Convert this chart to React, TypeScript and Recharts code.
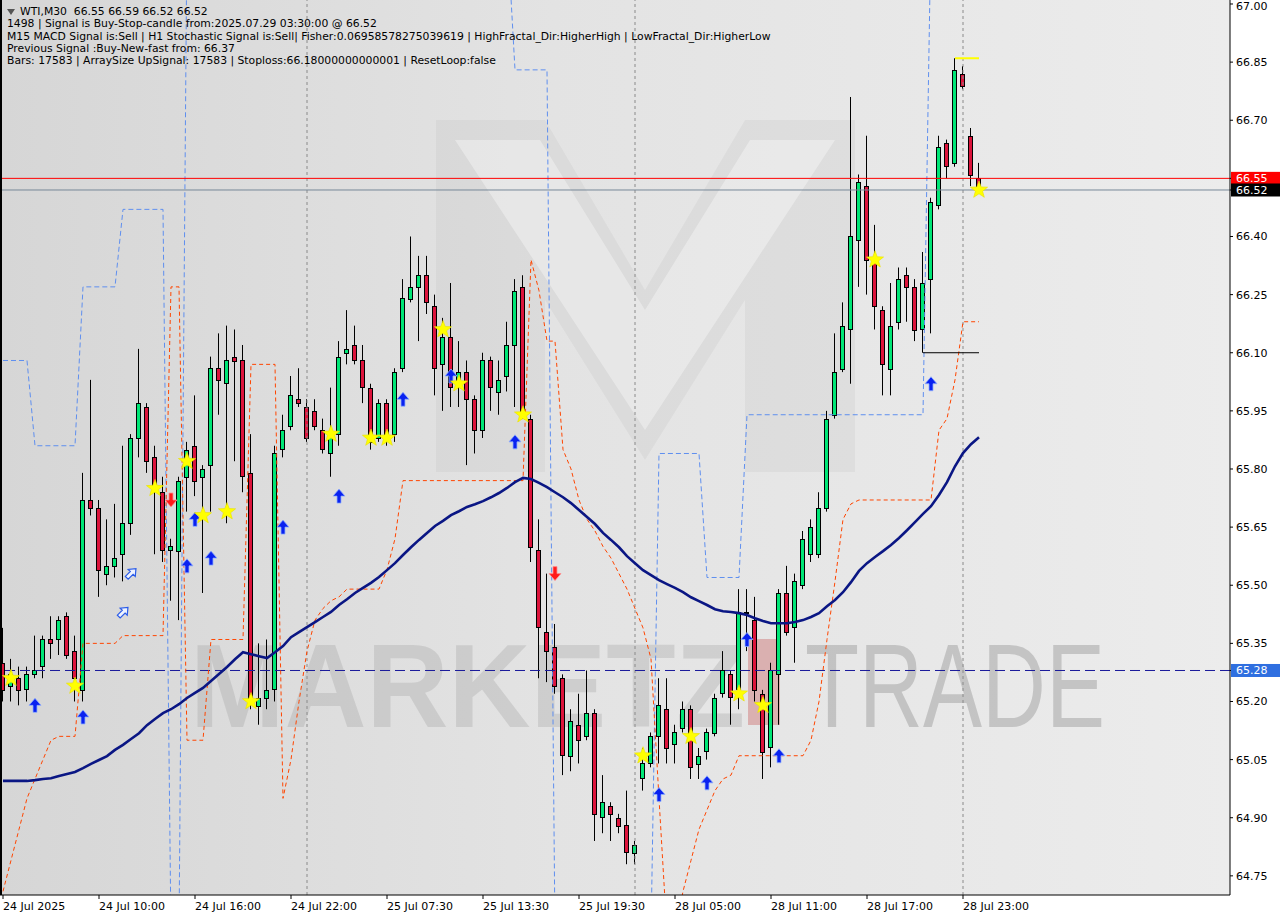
import { Bar, ComposedChart, Line, ReferenceLine, Scatter, XAxis, YAxis } from "recharts"

// WTI M30 – candles (bar 0 = 24 Jul 2025)
const opens = [
  65.30, 65.24, 65.26, 65.23, 65.27, 65.29, 65.36, 65.36, 65.42, 65.33,
  65.23, 65.72, 65.70, 65.53, 65.55, 65.58, 65.66, 65.88, 65.96, 65.83,
  65.74, 65.59, 65.59, 65.78, 65.86, 65.78, 65.81, 66.06, 66.02, 66.09,
  66.08, 65.79, 65.19, 65.21, 65.23, 65.85, 65.91, 65.98, 65.96, 65.95,
  65.90, 65.84, 65.89, 66.10, 66.12, 66.08, 66.01, 65.88, 65.97, 65.89,
  66.06, 66.24, 66.27, 66.30, 66.22, 66.07, 66.14, 66.03, 66.05, 65.98,
  65.90, 66.08, 66.00, 66.04, 66.12, 66.27, 65.93, 65.59, 65.38, 65.34,
  65.26, 65.06, 65.14, 65.11, 65.17, 64.90, 64.93, 64.90, 64.88, 64.81,
  65.00, 65.04, 65.11, 65.18, 65.09, 65.13, 65.18, 65.04, 65.07, 65.12,
  65.22, 65.27, 65.23, 65.43, 65.41, 65.22, 65.08, 65.27, 65.48, 65.39,
  65.50, 65.58, 65.58, 65.70, 65.94, 66.06, 66.16, 66.39, 66.53, 66.34,
  66.21, 66.06, 66.18, 66.30, 66.27, 66.16, 66.29, 66.48, 66.64, 66.59,
  66.82, 66.66, 66.55,
]
const highs = [
  65.39, 65.31, 65.29, 65.29, 65.37, 65.37, 65.42, 65.42, 65.43, 65.37,
  65.79, 66.03, 65.72, 65.67, 65.71, 65.86, 65.89, 66.11, 65.97, 65.86,
  65.78, 65.62, 65.78, 65.87, 65.99, 65.81, 66.09, 66.15, 66.17, 66.16,
  66.12, 65.89, 65.35, 65.36, 65.86, 65.94, 66.04, 66.06, 65.98, 65.98,
  65.93, 66.01, 66.13, 66.21, 66.17, 66.12, 66.02, 65.98, 65.98, 66.06,
  66.29, 66.40, 66.35, 66.35, 66.25, 66.19, 66.28, 66.13, 66.08, 65.99,
  66.10, 66.09, 66.08, 66.18, 66.29, 66.30, 65.94, 65.67, 65.53, 65.40,
  65.27, 65.18, 65.22, 65.28, 65.18, 65.01, 64.94, 64.91, 64.97, 64.84,
  65.08, 65.12, 65.26, 65.26, 65.14, 65.20, 65.19, 65.08, 65.13, 65.22,
  65.33, 65.28, 65.49, 65.49, 65.47, 65.23, 65.30, 65.49, 65.55, 65.53,
  65.64, 65.67, 65.74, 65.95, 66.15, 66.23, 66.76, 66.56, 66.66, 66.43,
  66.22, 66.28, 66.32, 66.32, 66.29, 66.36, 66.50, 66.66, 66.65, 66.86,
  66.84, 66.68, 66.59,
]
const lows = [
  65.20, 65.20, 65.19, 65.20, 65.26, 65.26, 65.31, 65.32, 65.31, 65.20,
  65.20, 65.68, 65.47, 65.50, 65.52, 65.51, 65.63, 65.83, 65.79, 65.58,
  65.56, 65.46, 65.41, 65.69, 65.73, 65.48, 65.69, 65.94, 65.66, 65.82,
  65.74, 65.18, 65.14, 65.18, 65.20, 65.83, 65.90, 65.96, 65.87, 65.90,
  65.84, 65.78, 65.86, 66.07, 66.07, 65.97, 65.85, 65.87, 65.86, 65.87,
  66.05, 66.23, 66.13, 66.20, 65.99, 65.95, 65.96, 65.96, 65.81, 65.84,
  65.88, 65.95, 65.94, 66.00, 65.96, 65.93, 65.56, 65.26, 65.25, 65.22,
  65.01, 65.02, 65.04, 65.10, 64.84, 64.86, 64.84, 64.86, 64.78, 64.78,
  64.97, 65.03, 65.04, 65.04, 65.04, 65.12, 65.00, 65.00, 65.05, 65.11,
  65.21, 65.14, 65.18, 65.33, 65.20, 65.00, 65.03, 65.14, 65.37, 65.30,
  65.49, 65.56, 65.57, 65.69, 65.93, 66.05, 66.02, 66.27, 66.25, 66.16,
  65.99, 65.99, 66.16, 66.18, 66.13, 66.10, 66.15, 66.47, 66.55, 66.58,
  66.78, 66.53, 66.52,
]
const closes = [
  65.23, 65.27, 65.23, 65.27, 65.28, 65.36, 65.35, 65.41, 65.32, 65.26,
  65.72, 65.70, 65.54, 65.55, 65.57, 65.66, 65.88, 65.97, 65.82, 65.75,
  65.59, 65.60, 65.77, 65.85, 65.77, 65.80, 66.06, 66.03, 66.08, 66.08,
  65.78, 65.20, 65.21, 65.23, 65.84, 65.90, 65.99, 65.97, 65.88, 65.91,
  65.85, 65.89, 66.09, 66.11, 66.08, 66.01, 65.87, 65.97, 65.88, 66.05,
  66.24, 66.27, 66.30, 66.23, 66.06, 66.14, 66.01, 66.05, 65.98, 65.90,
  66.08, 66.01, 66.03, 66.12, 66.26, 65.94, 65.60, 65.39, 65.33, 65.24,
  65.06, 65.15, 65.10, 65.17, 64.91, 64.94, 64.91, 64.88, 64.81, 64.83,
  65.04, 65.11, 65.19, 65.08, 65.12, 65.18, 65.03, 65.06, 65.12, 65.21,
  65.28, 65.21, 65.43, 65.43, 65.23, 65.07, 65.28, 65.48, 65.38, 65.51,
  65.62, 65.65, 65.70, 65.93, 66.05, 66.17, 66.40, 66.54, 66.34, 66.22,
  66.07, 66.17, 66.29, 66.27, 66.16, 66.28, 66.49, 66.63, 66.58, 66.83,
  66.79, 66.56, 66.52,
]

// moving average (thick navy line)
const maLine = [
  64.995, 64.995, 64.995, 64.995, 64.997, 65.000, 65.002, 65.008, 65.013, 65.018,
  65.028, 65.039, 65.049, 65.059, 65.075, 65.088, 65.103, 65.118, 65.139, 65.155,
  65.170, 65.180, 65.193, 65.209, 65.222, 65.235, 65.253, 65.271, 65.289, 65.309,
  65.327, 65.322, 65.317, 65.312, 65.327, 65.343, 65.366, 65.379, 65.392, 65.405,
  65.418, 65.431, 65.449, 65.464, 65.480, 65.493, 65.506, 65.521, 65.539, 65.557,
  65.578, 65.598, 65.617, 65.635, 65.653, 65.666, 65.681, 65.691, 65.702, 65.709,
  65.717, 65.727, 65.738, 65.751, 65.766, 65.777, 65.774, 65.764, 65.753, 65.740,
  65.727, 65.712, 65.694, 65.676, 65.658, 65.635, 65.617, 65.598, 65.575, 65.557,
  65.539, 65.526, 65.513, 65.503, 65.493, 65.482, 65.469, 65.459, 65.449, 65.438,
  65.433, 65.431, 65.428, 65.423, 65.415, 65.408, 65.402, 65.402, 65.402, 65.405,
  65.410, 65.418, 65.428, 65.446, 65.462, 65.482, 65.508, 65.537, 65.557, 65.573,
  65.588, 65.604, 65.622, 65.642, 65.663, 65.684, 65.704, 65.733, 65.766, 65.807,
  65.841, 65.864, 65.882,
]

// fractal channel, upper (blue dashed) – 67.20 / 64.60 sit outside the visible range
const upperBand = [
  66.08, 66.08, 66.08, 66.08, 65.86, 65.86, 65.86, 65.86, 65.86, 65.86,
  66.27, 66.27, 66.27, 66.27, 66.27, 66.47, 66.47, 66.47, 66.47, 66.47,
  66.47, 64.60, 64.60, 67.20, 67.20, 67.20, 67.20, 67.20, 67.20, 67.20,
  67.20, 67.20, 67.20, 67.20, 67.20, 67.20, 67.20, 67.20, 67.20, 67.20,
  67.20, 67.20, 67.20, 67.20, 67.20, 67.20, 67.20, 67.20, 67.20, 67.20,
  67.20, 67.20, 67.20, 67.20, 67.20, 67.20, 67.20, 67.20, 67.20, 67.20,
  67.20, 67.20, 67.20, 67.20, 66.83, 66.83, 66.83, 66.83, 66.83, 64.60,
  64.60, 64.60, 64.60, 64.60, 64.60, 64.60, 64.60, 64.60, 64.60, 64.60,
  64.60, 64.60, 65.84, 65.84, 65.84, 65.84, 65.84, 65.84, 65.52, 65.52,
  65.52, 65.52, 65.52, 65.94, 65.94, 65.94, 65.94, 65.94, 65.94, 65.94,
  65.94, 65.94, 65.94, 65.94, 65.94, 65.94, 65.94, 65.94, 65.94, 65.94,
  65.94, 65.94, 65.94, 65.94, 65.94, 65.94, 67.20, 67.20, 67.20, 67.20,
  67.20, 67.20, 67.20,
]
// fractal channel, lower (orange-red dashed)
const lowerBand = [
  64.71, 64.79, 64.87, 64.95, 65.00, 65.05, 65.10, 65.11, 65.11, 65.11,
  65.35, 65.35, 65.35, 65.35, 65.35, 65.37, 65.37, 65.37, 65.37, 65.37,
  65.37, 66.27, 66.27, 65.10, 65.10, 65.10, 65.36, 65.36, 65.36, 65.36,
  65.36, 66.07, 66.07, 66.07, 66.07, 64.95, 65.05, 65.20, 65.33, 65.41,
  65.44, 65.46, 65.47, 65.49, 65.49, 65.49, 65.49, 65.49, 65.54, 65.62,
  65.77, 65.77, 65.77, 65.77, 65.77, 65.77, 65.77, 65.77, 65.77, 65.77,
  65.77, 65.77, 65.77, 65.77, 65.77, 65.77, 66.34, 66.26, 66.13, 66.13,
  65.85, 65.80, 65.72, 65.67, 65.64, 65.60, 65.57, 65.53, 65.49, 65.44,
  65.39, 65.31, 64.95, 64.60, 64.60, 64.71, 64.79, 64.87, 64.92, 64.97,
  65.00, 65.01, 65.06, 65.06, 65.06, 65.06, 65.06, 65.06, 65.06, 65.06,
  65.06, 65.10, 65.20, 65.36, 65.51, 65.67, 65.71, 65.72, 65.72, 65.72,
  65.72, 65.72, 65.72, 65.72, 65.72, 65.72, 65.72, 65.90, 65.93, 66.03,
  66.18, 66.18, 66.18,
]

// signal markers: [bar, price]
const starSignals = [
  [1, 65.26], [9, 65.24], [19, 65.75], [23, 65.82], [25, 65.68], [28, 65.69], [31, 65.2],
  [41, 65.89], [46, 65.88], [48, 65.88], [55, 66.16], [57, 66.02], [65, 65.94], [80, 65.06],
  [86, 65.11], [92, 65.22], [95, 65.19], [109, 66.34], [122, 66.52],
]
const buyArrows = [
  [4, 65.19], [10, 65.16], [23, 65.55], [24, 65.67], [26, 65.57], [35, 65.65], [42, 65.73],
  [50, 65.98], [56, 66.04], [64, 65.87], [82, 64.96], [88, 64.99], [93, 65.36], [97, 65.06],
  [116, 66.02],
]
const sellArrows = [[21, 65.72], [69, 65.53]]
const hollowArrows = [[15, 65.43], [16, 65.53]]

const daySeparators = [38, 79, 120]
const timeTicks = [0, 12, 24, 36, 48, 60, 72, 84, 96, 108, 120]
const timeLabels = [
  "24 Jul 2025", "24 Jul 10:00", "24 Jul 16:00", "24 Jul 22:00", "25 Jul 07:30", "25 Jul 13:30",
  "25 Jul 19:30", "28 Jul 05:00", "28 Jul 11:00", "28 Jul 17:00", "28 Jul 23:00",
]
const priceTicks = [
  64.75, 64.9, 65.05, 65.2, 65.35, 65.5, 65.65, 65.8, 65.95, 66.1, 66.25, 66.4, 66.55, 66.7, 66.85, 67.0,
]
const bidPrice = 66.52
const alertPrice = 66.55
const levelPrice = 65.28
const lowFractal = 66.1
const highFractal = 66.86

const headerLines = [
  "1498 | Signal is Buy-Stop-candle from:2025.07.29 03:30:00 @ 66.52",
  "M15 MACD Signal is:Sell | H1 Stochastic Signal is:Sell| Fisher:0.06958578275039619 | HighFractal_Dir:HigherHigh | LowFractal_Dir:HigherLow",
  "Previous Signal :Buy-New-fast from: 66.37",
  "Bars: 17583 | ArraySize UpSignal: 17583 | Stoploss:66.18000000000001 | ResetLoop:false",
]

const FONT = "'DejaVu Sans', Tahoma, sans-serif"
const tagStyle: Record<string, string> = { "66.55": "#ff0000", "66.52": "#000000", "65.28": "#2f6fe0" }

function Candle(props: any) {
  const { x, y, width, height, payload } = props
  if (x == null || !payload) return null
  const { o, h, l, c } = payload
  const top = Math.min(y, y + height)
  const hh = Math.abs(height)
  const cx = Math.floor(x + width / 2) + 0.5
  const k = h - l > 0 ? hh / (h - l) : 0
  const yo = top + (h - o) * k
  const yc = top + (h - c) * k
  const bTop = Math.round(Math.min(yo, yc))
  const bH = Math.max(1, Math.round(Math.abs(yo - yc)))
  return (
    <g>
      <line x1={cx} x2={cx} y1={top} y2={top + hh} stroke="#000" strokeWidth={1} />
      <rect x={cx - 2} y={bTop + 0.5} width={4} height={bH} fill={c >= o ? "#00e676" : "#dc143c"} stroke="#000" strokeWidth={1} />
    </g>
  )
}

function starPath(cx: number, cy: number, R: number, r: number) {
  let d = ""
  for (let k = 0; k < 10; k++) {
    const rad = k % 2 === 0 ? R : r
    const a = -Math.PI / 2 + (k * Math.PI) / 5
    d += (k ? "L" : "M") + (cx + rad * Math.cos(a)).toFixed(1) + " " + (cy + rad * Math.sin(a)).toFixed(1)
  }
  return d + "Z"
}

const Star = ({ cx, cy }: any) => <path d={starPath(cx, cy, 9, 3.8)} fill="#ffff00" stroke="#e8e000" strokeWidth={0.6} />

const UpArrow = ({ cx, cy }: any) => (
  <path
    d={`M${cx} ${cy - 7} L${cx + 6} ${cy} L${cx + 2} ${cy} L${cx + 2} ${cy + 7} L${cx - 2} ${cy + 7} L${cx - 2} ${cy} L${cx - 6} ${cy} Z`}
    fill="#0a22f0" stroke="#8fb0ff" strokeWidth={0.8}
  />
)
const DownArrow = ({ cx, cy }: any) => (
  <path
    d={`M${cx} ${cy + 7} L${cx + 6} ${cy} L${cx + 2} ${cy} L${cx + 2} ${cy - 7} L${cx - 2} ${cy - 7} L${cx - 2} ${cy} L${cx - 6} ${cy} Z`}
    fill="#ff1a1a" stroke="#ff9090" strokeWidth={0.8}
  />
)
const HollowArrow = ({ cx, cy }: any) => (
  <path
    transform={`rotate(45 ${cx} ${cy})`}
    d={`M${cx} ${cy - 7} L${cx + 5} ${cy - 1} L${cx + 2} ${cy - 1} L${cx + 2} ${cy + 6} L${cx - 2} ${cy + 6} L${cx - 2} ${cy - 1} L${cx - 5} ${cy - 1} Z`}
    fill="#eef3ff" stroke="#2a5be8" strokeWidth={1.2}
  />
)

const TimeTick = ({ x, y, payload }: any) => (
  <text x={x} y={y + 10} fontSize={11} fontFamily={FONT} fill="#000" textAnchor="start">
    {timeLabels[timeTicks.indexOf(payload.value)]}
  </text>
)

const PriceTick = ({ x, y, payload }: any) => {
  const label = payload.value.toFixed(2)
  const bg = tagStyle[label]
  const base = Math.max(y + 4, 10)
  if (bg) {
    return (
      <g>
        <rect x={1231} y={y - 6.5} width={49} height={13} fill={bg} />
        <text x={x} y={base} fontSize={11} fontFamily={FONT} fill="#fff">{label}</text>
      </g>
    )
  }
  return <text x={x} y={base} fontSize={11} fontFamily={FONT} fill="#000">{label}</text>
}

function Backdrop() {
  return (
    <svg width={1230} height={895} style={{ position: "absolute", left: 0, top: 0 }}>
      <defs>
        <linearGradient id="bgGrad" x1="0" y1="0" x2="1" y2="0">
          <stop offset="0%" stopColor="#d6d6d6" />
          <stop offset="45%" stopColor="#e3e3e3" />
          <stop offset="100%" stopColor="#ececec" />
        </linearGradient>
      </defs>
      <rect width={1230} height={895} fill="url(#bgGrad)" />
      {/* faded logo + watermark */}
      <polygon points="436,120 545,120 645,290 745,120 855,120 855,472 745,472 745,300 645,460 545,300 545,472 436,472" fill="rgba(0,0,0,0.035)" />
      <polygon points="455,140 540,140 645,310 750,140 835,140 645,430" fill="rgba(255,255,255,0.35)" />
      <text x={190} y={727} fontSize={118} fontWeight={700} fontFamily="'Liberation Sans', sans-serif" fill="rgba(150,150,150,0.28)" textLength={555} lengthAdjust="spacingAndGlyphs">MARKETZ</text>
      <rect x={748} y={639} width={32} height={86} fill="rgba(205,110,110,0.45)" />
      <text x={805} y={727} fontSize={118} fontWeight={300} fontFamily="'Liberation Sans', sans-serif" fill="rgba(150,150,150,0.45)" textLength={300} lengthAdjust="spacingAndGlyphs">TRADE</text>
    </svg>
  )
}

export default function App() {
  const data = opens.map((o, i) => ({
    i, o, h: highs[i], l: lows[i], c: closes[i],
    ma: maLine[i], up: upperBand[i], lo: lowerBand[i],
  }))
  const pts = (arr: number[][]) => arr.map(([i, p]) => ({ i, p }))

  return (
    <div style={{ position: "absolute", left: 0, top: 0, width: 1280, height: 920, background: "#fff", overflow: "hidden", fontFamily: FONT }}>
      <Backdrop />
      <div style={{ position: "absolute", left: 0, top: 0 }}>
        <ComposedChart width={1280} height={920} data={data} margin={{ top: 0, right: 0, bottom: 0, left: 0 }}>
          <XAxis dataKey="i" type="number" domain={[-0.375, 153.375]} ticks={timeTicks} interval={0}
            height={25} tick={<TimeTick />} tickSize={4} tickMargin={1} axisLine={{ stroke: "#000" }} tickLine={{ stroke: "#000" }}
            allowDataOverflow />
          <YAxis orientation="right" type="number" domain={[64.7006, 67.0103]} width={50} allowDataOverflow
            ticks={[...priceTicks, bidPrice, levelPrice]} interval={0} tick={<PriceTick />} tickSize={3} tickMargin={3}
            axisLine={{ stroke: "#000" }} tickLine={{ stroke: "#000" }} />
          {daySeparators.map((d) => (
            <ReferenceLine key={d} x={d} stroke="#8a8a8a" strokeDasharray="3 3" />
          ))}
          <ReferenceLine y={levelPrice} stroke="#1a1a9a" strokeDasharray="10 5" />
          <Bar dataKey={(d: any) => [d.l, d.h]} barSize={5} shape={<Candle />} isAnimationActive={false} />
          <Line dataKey="up" type="linear" stroke="#5f8fef" strokeWidth={1} strokeDasharray="5 3" dot={false} isAnimationActive={false} />
          <Line dataKey="lo" type="linear" stroke="#ff4500" strokeWidth={1} strokeDasharray="4 3" dot={false} isAnimationActive={false} />
          <Line dataKey="ma" type="linear" stroke="#0a1684" strokeWidth={2.6} dot={false} isAnimationActive={false} />
          <ReferenceLine y={alertPrice} stroke="#ff0000" />
          <ReferenceLine y={bidPrice} stroke="#778899" />
          <ReferenceLine segment={[{ x: 115, y: lowFractal }, { x: 122, y: lowFractal }]} stroke="#000" />
          <ReferenceLine segment={[{ x: 119, y: highFractal }, { x: 122, y: highFractal }]} stroke="#ffff00" strokeWidth={2} />
          <Scatter data={pts(hollowArrows)} dataKey="p" shape={<HollowArrow />} isAnimationActive={false} />
          <Scatter data={pts(sellArrows)} dataKey="p" shape={<DownArrow />} isAnimationActive={false} />
          <Scatter data={pts(buyArrows)} dataKey="p" shape={<UpArrow />} isAnimationActive={false} />
          <Scatter data={pts(starSignals)} dataKey="p" shape={<Star />} isAnimationActive={false} />
        </ComposedChart>
      </div>
      <div style={{ position: "absolute", left: 0, top: 0, width: 2, height: 895, background: "#000" }} />
      <div style={{ position: "absolute", left: 7, top: 6, fontSize: 10.8, lineHeight: "12.3px", color: "#000", whiteSpace: "pre" }}>
        <div>
          <span style={{ display: "inline-block", width: 0, height: 0, borderLeft: "4px solid transparent", borderRight: "4px solid transparent", borderTop: "6px solid #555", marginRight: 5, verticalAlign: "middle" }} />
          {"WTI,M30  66.55 66.59 66.52 66.52"}
        </div>
        {headerLines.map((t) => (
          <div key={t}>{t}</div>
        ))}
      </div>
    </div>
  )
}
